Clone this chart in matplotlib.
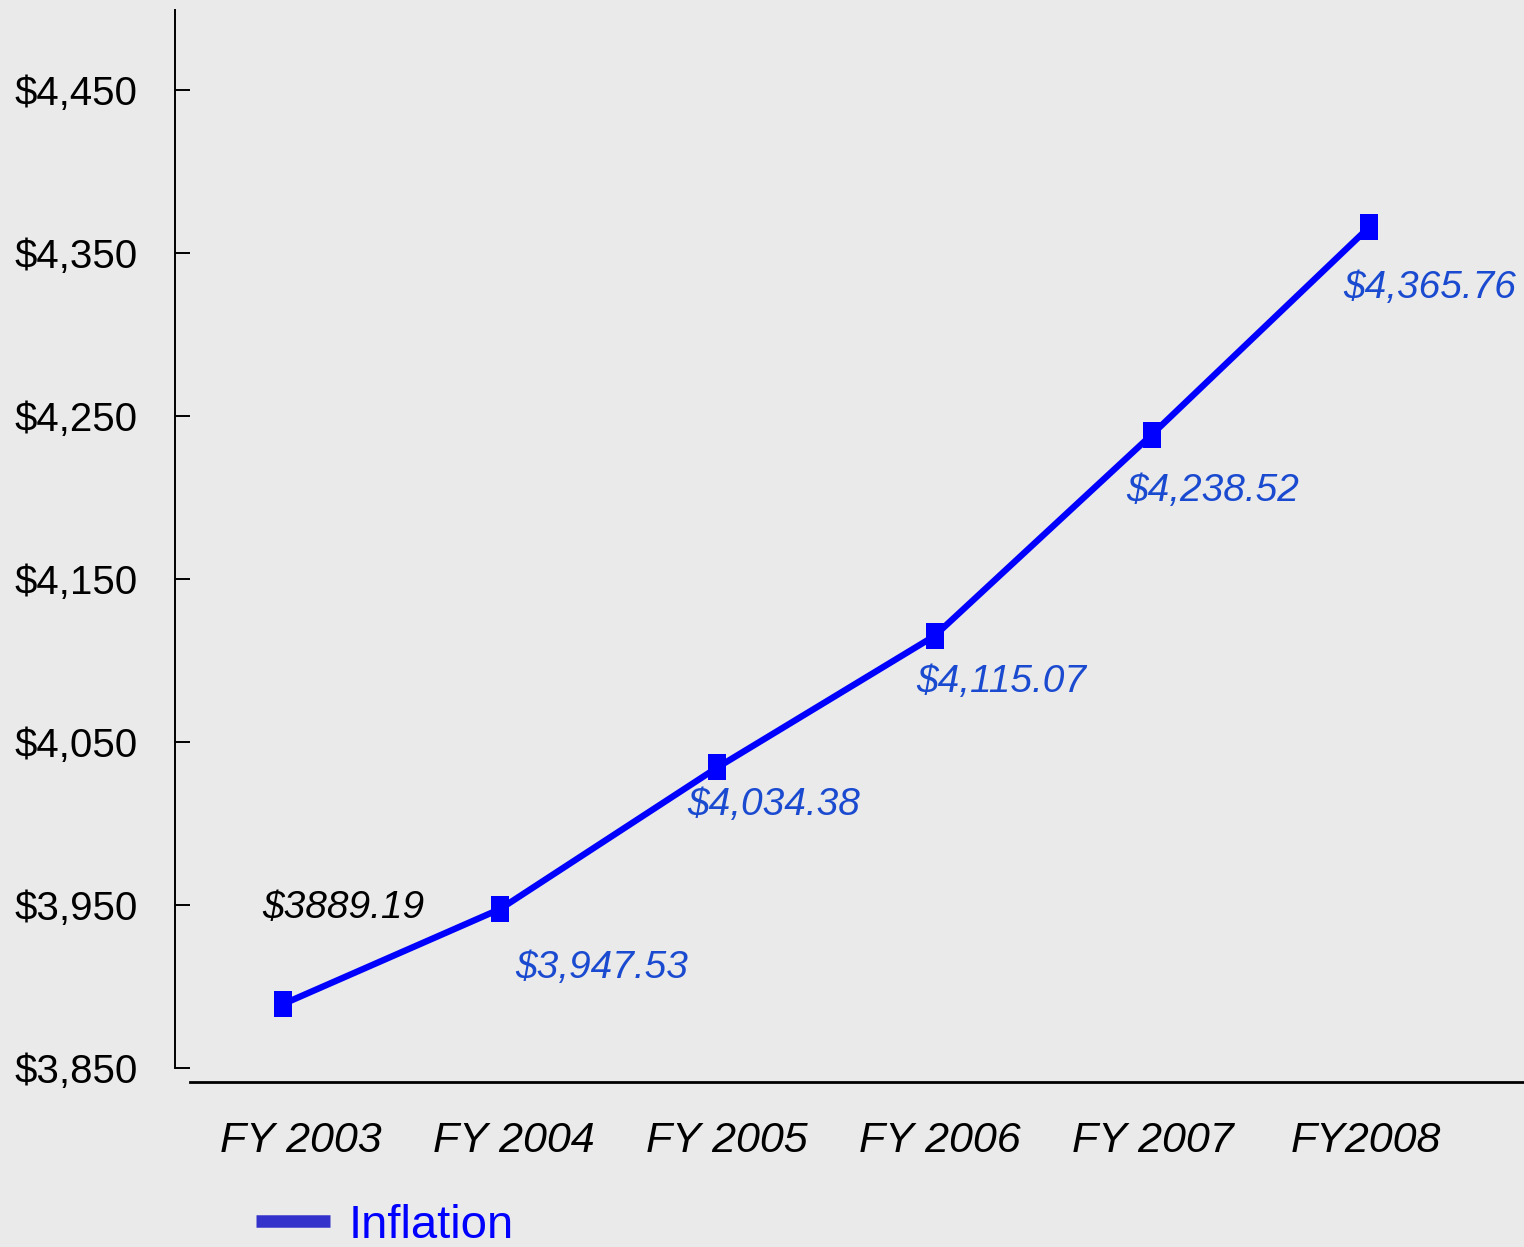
import numpy as np
import matplotlib
matplotlib.use('Agg')
import matplotlib.pyplot as plt
from matplotlib import font_manager
from matplotlib.lines import Line2D

# 데이터
years = ['FY 2003', 'FY 2004', 'FY 2005', 'FY 2006', 'FY 2007', 'FY2008']
inflation = [3889.19, 3947.53, 4034.38, 4115.07, 4238.52, 4365.76]
point_labels = ['$3889.19', '$3,947.53', '$4,034.38', '$4,115.07', '$4,238.52', '$4,365.76']
yticks = [3850, 3950, 4050, 4150, 4250, 4350, 4450]
ytick_labels = ['$3,850', '$3,950', '$4,050', '$4,150', '$4,250', '$4,350', '$4,450']

# 좁은 글꼴이 있으면 사용
names = {f.name for f in font_manager.fontManager.ttflist}
font = 'Liberation Sans Narrow' if 'Liberation Sans Narrow' in names else 'Liberation Sans'
plt.rcParams['font.family'] = [font, 'DejaVu Sans']

bg = '#eaeaea'
fig = plt.figure(figsize=(15.24, 12.47), dpi=100, facecolor=bg)
ax = fig.add_axes([175 / 1524, 1 - 1082 / 1247, 1 - 175 / 1524, (1082 - 10) / 1247])
ax.set_facecolor(bg)

x = np.arange(len(years))
ax.plot(x, inflation, color='#0000ff', lw=4.6,
        marker=[(-0.7, -1), (0.7, -1), (0.7, 1), (-0.7, 1)], markersize=19,
        markeredgewidth=0, zorder=3)

ax.set_xlim(-0.497, 5.714)
ax.set_ylim(3841.4, 4499.1)

# 축 모양
for s in ['top', 'right']:
    ax.spines[s].set_visible(False)
ax.spines['left'].set_bounds(3850, 4499.1)
ax.spines['left'].set_linewidth(1.4)
ax.spines['bottom'].set_bounds(-0.428, 5.714)
ax.spines['bottom'].set_linewidth(2.0)

ax.set_yticks(yticks)
ax.set_yticklabels(ytick_labels)
ax.tick_params(axis='y', direction='in', length=11, width=1.4, pad=27, labelsize=29)

label_pos = np.arange(len(years)) * 0.981 + 0.08
ax.set_xticks(label_pos)
ax.set_xticklabels(years, fontstyle='italic')
ax.tick_params(axis='x', length=0, pad=28, labelsize=31)

# 값 라벨
offsets = [(60, 96), (102, -59), (56, -38), (67, -46), (61, -56), (61, -61)]
for i, (val, lab) in enumerate(zip(inflation, point_labels)):
    col = 'black' if i == 0 else '#1a4ad0'
    ax.annotate(lab, xy=(i, val), xytext=offsets[i], textcoords='offset pixels',
                ha='center', va='center', fontsize=28, fontstyle='italic', color=col)

# 범례
handle = Line2D([], [], color='#3333cc', lw=9, solid_capstyle='butt')
leg = fig.legend([handle], ['Inflation'], loc='center left',
                 bbox_to_anchor=(256 / 1524, 1 - 1226 / 1247), frameon=False,
                 fontsize=34, handlelength=1.57, handletextpad=0.4, borderpad=0,
                 borderaxespad=0)
for t in leg.get_texts():
    t.set_color('#0000ff')

fig.savefig('out.png', dpi=100, facecolor=bg)
